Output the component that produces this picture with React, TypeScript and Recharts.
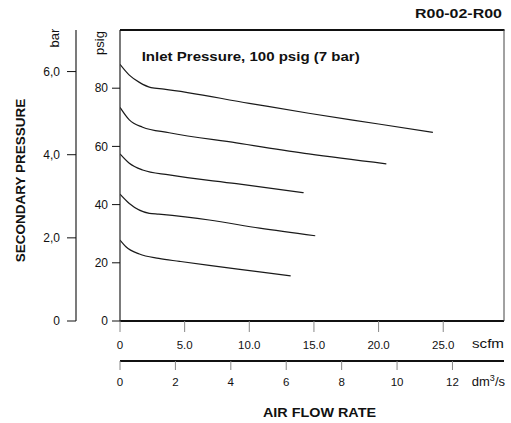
import React from 'react';
import { LineChart, Line, XAxis, YAxis } from 'recharts';

// secondary pressure curves (flow in scfm, pressure in psig)
const flow1 = [0, 0.72, 1.5, 2.4, 3.4, 10, 14.6, 20, 24.2];
const psig1 = [88.2, 84.5, 82.0, 80.2, 79.7, 74.8, 71.4, 67.7, 64.8];
const flow2 = [0, 0.72, 1.75, 3.8, 9, 14.6, 20.6];
const psig2 = [73.4, 69.1, 66.6, 64.7, 61.2, 57.4, 54.0];
const flow3 = [0, 0.72, 1.75, 3.8, 9, 14.2];
const psig3 = [57.4, 54.2, 51.9, 50.2, 47.2, 44.1];
const flow4 = [0, 0.72, 2.27, 3.0, 6.9, 10.8, 15.1];
const psig4 = [43.6, 40.4, 37.0, 36.7, 34.7, 31.9, 29.3];
const flow5 = [0, 0.46, 1.5, 3.0, 4.6, 6.9, 10.8, 13.2];
const psig5 = [27.8, 25.5, 23.0, 21.5, 20.5, 19.1, 16.9, 15.5];

const scfmTicks = [0, 5, 10, 15, 20, 25];
const scfmLabels = ['0', '5.0', '10.0', '15.0', '20.0', '25.0'];
const dmTicks = [0, 2, 4, 6, 8, 10, 12];
const psigTicks = [0, 20, 40, 60, 80];
const barTicks = [0, 2, 4, 6];
const barLabels = ['0', '2,0', '4,0', '6,0'];

const curves = [
  [flow1, psig1],
  [flow2, psig2],
  [flow3, psig3],
  [flow4, psig4],
  [flow5, psig5],
].map(([f, p]) => f.map((scfm, i) => ({ scfm, psig: p[i] })));

// only used so the dm³/s axis has something to scale
const dmData = dmTicks.map((dm) => ({ dm }));

const font = '"Liberation Sans", Arial, sans-serif';
const ink = '#111';

export default function App() {
  return (
    <div style={{ position: 'absolute', left: 0, top: 0, width: 511, height: 423, background: '#fff' }}>
      <LineChart width={511} height={423} margin={{ top: 30, right: 7, bottom: 32, left: 26 }}>
        <XAxis
          xAxisId="b" dataKey="dm" type="number" domain={[0, 13.86]} ticks={dmTicks} height={30}
          axisLine={{ stroke: ink, strokeWidth: 2 }} tickLine={{ stroke: '#888' }}
          tickSize={9} tickMargin={8} tick={{ fontSize: 11.5, fill: ink, fontFamily: font }}
          allowDataOverflow
        />
        <XAxis
          xAxisId="a" dataKey="scfm" type="number" domain={[0, 29.7]} ticks={scfmTicks}
          tickFormatter={(v) => scfmLabels[scfmTicks.indexOf(v)]} height={40}
          axisLine={{ stroke: ink, strokeWidth: 2 }} tickLine={{ stroke: '#888' }}
          tickSize={11} tickMargin={9} tick={{ fontSize: 11.5, fill: ink, fontFamily: font }}
          allowDataOverflow
        />
        <YAxis
          yAxisId="b" type="number" domain={[0, 7]} ticks={barTicks} width={50}
          tickFormatter={(v) => barLabels[barTicks.indexOf(v)]}
          axisLine={{ stroke: '#333', strokeWidth: 1.3 }} tickLine={{ stroke: ink }}
          tickSize={9} tickMargin={7} tick={{ fontSize: 12, fill: ink, fontFamily: font }}
          allowDataOverflow
        />
        <YAxis
          yAxisId="a" type="number" domain={[0, 100]} ticks={psigTicks} width={44}
          axisLine={{ stroke: '#333', strokeWidth: 1.3 }} tickLine={{ stroke: ink }}
          tickSize={8} tickMargin={4} tick={{ fontSize: 12, fill: ink, fontFamily: font }}
          allowDataOverflow
        />
        <Line
          data={dmData} dataKey="none" xAxisId="b" yAxisId="b" stroke="none"
          dot={false} legendType="none" isAnimationActive={false}
        />
        {curves.map((d, i) => (
          <Line
            key={i} data={d} dataKey="psig" xAxisId="a" yAxisId="a" type="monotone"
            stroke="#1a1a1a" strokeWidth={1.2} dot={false} isAnimationActive={false}
          />
        ))}
      </LineChart>
      <svg width={511} height={423} style={{ position: 'absolute', left: 0, top: 0, pointerEvents: 'none' }}
        fontFamily={font} fill={ink}>
        {/* plot frame: top and right edges */}
        <line x1={120} y1={30} x2={504.5} y2={30} stroke={ink} strokeWidth={2} />
        <line x1={504} y1={30} x2={504} y2={321} stroke="#444" strokeWidth={1} />
        <text x={415} y={18.3} fontSize={13} fontWeight="bold" textLength={87} lengthAdjust="spacingAndGlyphs">R00-02-R00</text>
        <text x={141.7} y={60.7} fontSize={13} fontWeight="bold" textLength={218} lengthAdjust="spacingAndGlyphs">
          Inlet Pressure, 100 psig (7 bar)
        </text>
        <text transform="translate(59,38) rotate(-90)" fontSize={13} textAnchor="middle">bar</text>
        <text transform="translate(104,43) rotate(-90)" fontSize={13} textAnchor="middle">psig</text>
        <text transform="translate(24.5,180.5) rotate(-90)" fontSize={13.5} fontWeight="bold" textAnchor="middle">
          SECONDARY PRESSURE
        </text>
        <text x={472} y={347.7} fontSize={12} textLength={32} lengthAdjust="spacingAndGlyphs">scfm</text>
        <text x={505} y={386} fontSize={13} textAnchor="end">
          dm<tspan dy={-5} fontSize={9}>3</tspan><tspan dy={5}>/s</tspan>
        </text>
        <text x={263} y={417.3} fontSize={12} fontWeight="bold" textLength={113} lengthAdjust="spacingAndGlyphs">
          AIR FLOW RATE
        </text>
      </svg>
    </div>
  );
}
